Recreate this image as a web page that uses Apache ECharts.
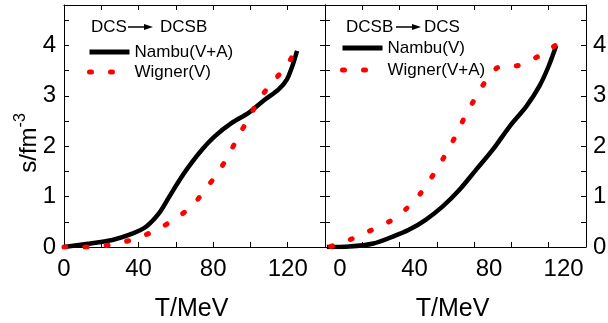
<!DOCTYPE html>
<html>
<head>
    <meta charset="utf-8" />
    <script src="https://cdn.jsdelivr.net/npm/echarts@6/dist/echarts.min.js"></script>
    <style>
        html, body { margin: 0; padding: 0; background: #fff; }
        #chart { width: 608px; height: 323px; }
    </style>
</head>
<body>
    <div id="chart"></div>
    <script type="text/javascript">
        // left panel: DCS -> DCSB
        var nambuVA_T = [0, 14, 26, 37, 44, 51, 56.5, 62, 67, 74, 81, 90, 99, 108, 115, 119.5, 122.5, 125];
        var nambuVA_s = [0, 0.07, 0.14, 0.27, 0.40, 0.67, 1.0, 1.33, 1.60, 1.93, 2.20, 2.46, 2.66, 2.93, 3.12, 3.32, 3.59, 3.89];
        var wignerV_T = [0, 14, 26, 37, 48, 58, 68, 75, 82, 88, 93, 99, 104.5, 111.5, 119, 123.7];
        var wignerV_s = [0, 0.0, 0.05, 0.15, 0.31, 0.52, 0.79, 1.10, 1.45, 1.80, 2.16, 2.55, 2.91, 3.26, 3.57, 3.87];
        // right panel: DCSB -> DCS
        var nambuV_T = [-7, 5, 18, 28, 37, 46, 55, 64, 73, 82, 91, 100, 107, 112, 116];
        var nambuV_s = [0, 0.01, 0.07, 0.20, 0.34, 0.54, 0.80, 1.13, 1.53, 1.93, 2.39, 2.79, 3.19, 3.59, 3.99];
        var wignerVA_T = [-5, 5.7, 16, 26.3, 36, 43.6, 50, 55.8, 61.3, 66.3, 71.6, 77.3, 85.3, 95.6, 106.3, 116.4];
        var wignerVA_s = [0.01, 0.15, 0.32, 0.50, 0.77, 1.08, 1.43, 1.78, 2.15, 2.53, 2.89, 3.24, 3.57, 3.60, 3.78, 4.02];

        var xTickLabels = [0, 40, 80, 120];
        var yTickLabels = [0, 1, 2, 3, 4];

        var font = "'Liberation Sans', Arial, sans-serif";

        function zip(xs, ys) {
            return xs.map(function(x, i) { return [x, ys[i]]; });
        }
        function xLabel(v) {
            return xTickLabels.indexOf(Math.round(v * 1000) / 1000) >= 0 ? String(Math.round(v)) : '';
        }
        function yLabel(v) {
            return yTickLabels.indexOf(Math.round(v * 1000) / 1000) >= 0 ? String(Math.round(v)) : '';
        }

        var axisLine = { show: true, onZero: false, lineStyle: { color: '#000', width: 1 } };
        var tick = { show: true, inside: true, length: 5, lineStyle: { color: '#000', width: 1 } };
        var noLabel = { show: false };
        var tickLabel = { fontSize: 24, color: '#000', fontFamily: font, margin: 8 };
        var xTickLabel = Object.assign({}, tickLabel, { margin: 10 });

        function xAx(grid, pos, min, max, interval, extra) {
            return Object.assign({
                type: 'value', gridIndex: grid, position: pos, min: min, max: max, interval: interval,
                axisLine: axisLine, axisTick: tick, axisLabel: noLabel, splitLine: { show: false }
            }, extra || {});
        }
        function yAx(grid, pos, extra) {
            return Object.assign({
                type: 'value', gridIndex: grid, position: pos, min: 0, max: 4.8, interval: 0.5,
                axisLine: axisLine, axisTick: tick, axisLabel: noLabel, splitLine: { show: false }
            }, extra || {});
        }
        var nameStyle = { fontSize: 25, color: '#000', fontFamily: font, padding: [0, 6, 0, 0] };

        var black = { color: '#000', width: 4.5 };
        var redDots = { color: '#ff0000', width: 5, type: [2, 19], cap: 'round' };

        var legendBase = {
            orient: 'vertical', padding: 0, itemWidth: 40, itemHeight: 14, selectedMode: false,
            itemStyle: { opacity: 0 }, lineStyle: { width: 5 },
            textStyle: { fontSize: 17, color: '#000', fontFamily: font }
        };

        var chart = echarts.init(document.getElementById('chart'), null, { renderer: 'canvas' });
        chart.setOption({
            animation: false,
            backgroundColor: '#fff',
            grid: [
                { left: 64, top: 5, width: 261, height: 242, outerBoundsMode: 'none', containLabel: false },
                { left: 325, top: 5, width: 261, height: 242, outerBoundsMode: 'none', containLabel: false }
            ],
            xAxis: [
                xAx(0, 'bottom', 0, 140, 20, {
                    axisLabel: Object.assign({ formatter: xLabel }, xTickLabel),
                    name: 'T/MeV', nameLocation: 'middle', nameGap: 50, nameTextStyle: nameStyle
                }),
                xAx(0, 'top', 0, 140, 20),
                xAx(1, 'bottom', -8, 132, 20, {
                    name: 'T/MeV', nameLocation: 'middle', nameGap: 50, nameTextStyle: nameStyle
                }),
                xAx(1, 'top', -8, 132, 20),
                xAx(1, 'bottom', -8, 132, 4, {
                    axisLine: { show: false }, axisTick: { show: false },
                    axisLabel: Object.assign({ formatter: xLabel }, xTickLabel)
                })
            ],
            yAxis: [
                yAx(0, 'left', { axisLabel: Object.assign({ formatter: yLabel }, tickLabel) }),
                yAx(0, 'right'),
                yAx(1, 'left'),
                yAx(1, 'right', { axisLabel: Object.assign({ formatter: yLabel }, tickLabel, { margin: 7 }) })
            ],
            legend: [
                Object.assign({}, legendBase, { data: ['Nambu(V+A)', 'Wigner(V)'], left: 87, top: 43.5, itemGap: 3 }),
                Object.assign({}, legendBase, { data: ['Nambu(V)', 'Wigner(V+A)'], left: 340, top: 39.5, itemGap: 5 })
            ],
            graphic: [
                { type: 'text', x: 27, y: 143, rotation: Math.PI / 2,
                  style: { text: '{a|s/fm}{b|-3}', align: 'center', verticalAlign: 'middle',
                    rich: { a: { fontSize: 24, fontFamily: font, fill: '#000', lineHeight: 28, verticalAlign: 'bottom' },
                            b: { fontSize: 16, fontFamily: font, fill: '#000', lineHeight: 28, verticalAlign: 'top' } } } },
                { type: 'text', x: 91, y: 27, style: { text: 'DCS', fontSize: 17, fontFamily: font, fill: '#000', verticalAlign: 'middle' } },
                { type: 'line', shape: { x1: 128, y1: 27, x2: 146, y2: 27 }, style: { stroke: '#000', lineWidth: 1.5 } },
                { type: 'polygon', shape: { points: [[144, 24], [153, 27], [144, 30]] }, style: { fill: '#000' } },
                { type: 'text', x: 160, y: 27, style: { text: 'DCSB', fontSize: 17, fontFamily: font, fill: '#000', verticalAlign: 'middle' } },
                { type: 'text', x: 346, y: 27, style: { text: 'DCSB', fontSize: 17, fontFamily: font, fill: '#000', verticalAlign: 'middle' } },
                { type: 'line', shape: { x1: 396, y1: 27, x2: 414, y2: 27 }, style: { stroke: '#000', lineWidth: 1.5 } },
                { type: 'polygon', shape: { points: [[412, 24], [421, 27], [412, 30]] }, style: { fill: '#000' } },
                { type: 'text', x: 424, y: 27, style: { text: 'DCS', fontSize: 17, fontFamily: font, fill: '#000', verticalAlign: 'middle' } }
            ],
            series: [
                { name: 'Nambu(V+A)', type: 'line', xAxisIndex: 0, yAxisIndex: 0, data: zip(nambuVA_T, nambuVA_s),
                  smooth: 0.3, symbol: 'none', lineStyle: black, itemStyle: { color: '#000' }, z: 3 },
                { name: 'Wigner(V)', type: 'line', xAxisIndex: 0, yAxisIndex: 0, data: zip(wignerV_T, wignerV_s),
                  smooth: 0.3, symbol: 'none', lineStyle: redDots, itemStyle: { color: '#ff0000' }, z: 4 },
                { name: 'Nambu(V)', type: 'line', xAxisIndex: 2, yAxisIndex: 3, data: zip(nambuV_T, nambuV_s),
                  smooth: 0.3, symbol: 'none', lineStyle: black, itemStyle: { color: '#000' }, z: 3 },
                { name: 'Wigner(V+A)', type: 'line', xAxisIndex: 2, yAxisIndex: 3, data: zip(wignerVA_T, wignerVA_s),
                  smooth: 0.3, symbol: 'none', lineStyle: redDots, itemStyle: { color: '#ff0000' }, z: 4 }
            ]
        });
    </script>
</body>
</html>
